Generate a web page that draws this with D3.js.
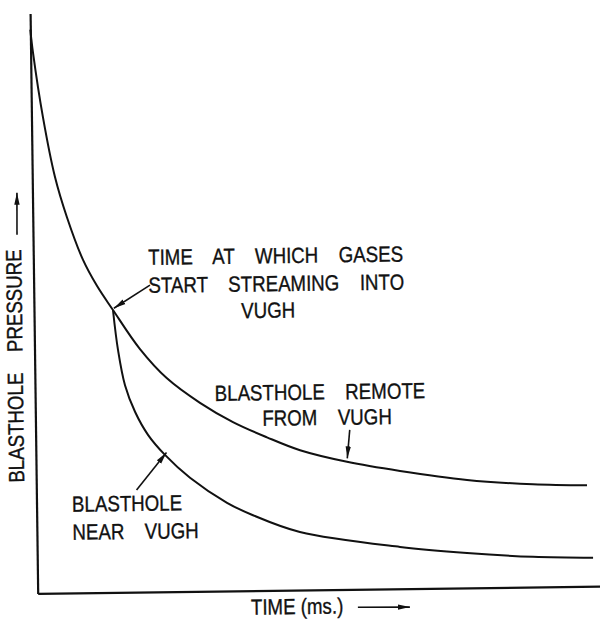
<!DOCTYPE html>
<html>
<head>
<meta charset="utf-8">
<script src="https://cdn.jsdelivr.net/npm/d3@7"></script>
<style>
  html, body { margin: 0; padding: 0; background: #fff; }
  svg { display: block; }
  text { font-family: "Liberation Sans", Arial, sans-serif; fill: #111; stroke: #111; stroke-width: 0.35px; }
</style>
</head>
<body>
<svg id="chart" width="600" height="619"></svg>
<script>
// ---- data (time and pressure in arbitrary units, 0-100) ----
const remoteTime     = [0, 0.43, 2.04, 4.03, 6.07, 8.83, 11.24, 14.03, 18.74, 23.46, 29.27, 35.08, 41.08, 46.93, 55.24, 64.64, 76.52, 88.22, 97.81];
const remotePressure = [97.2, 93.2, 82.1, 71.8, 64.8, 57.4, 52.9, 48.7, 41.9, 36.8, 32.5, 29.1, 26.4, 24.1, 22.0, 20.3, 18.6, 17.7, 17.4];
const nearTime       = [14.03, 14.83, 15.99, 17.71, 19.96, 22.93, 27.32, 33.84, 38.42, 46.71, 64.46, 76.34, 88.06, 98.72];
const nearPressure   = [48.7, 41.8, 35.7, 31.1, 27.1, 23.6, 19.6, 15.2, 13.0, 10.0, 7.2, 6.0, 5.2, 4.9];

const xTitle = "TIME (ms.)";
const yTitle = "BLASTHOLE PRESSURE";

// annotation lines [x1, y1, x2(tip), y2(tip)] in data units
const annotationArrows = [
  [20.66, 52.9, 14.2, 49.0],
  [17.8, 17.6, 23.2, 24.0],
  [55.8, 27.5, 55.3, 22.6]
];
const annotationLabels = [
  { lines: ["TIME AT WHICH GASES", "START STREAMING INTO"], x: 20.4, y: 56.4, anchor: "start" },
  { lines: ["VUGH"], x: 41.6, y: 47.0, anchor: "middle" },
  { lines: ["BLASTHOLE REMOTE"], x: 31.9, y: 32.8, anchor: "start" },
  { lines: ["FROM VUGH"], x: 51.8, y: 28.4, anchor: "middle" },
  { lines: ["BLASTHOLE", "NEAR VUGH"], x: 6.3, y: 14.0, anchor: "start" }
];

// ---- chart ----
const svg = d3.select("#chart");
const x = d3.scaleLinear().domain([0, 100]).range([34, 597]);
const y = d3.scaleLinear().domain([0, 100]).range([590, 10]);

const defs = svg.append("defs");
defs.append("marker")
  .attr("id", "head").attr("viewBox", "0 0 12 10")
  .attr("refX", 12).attr("refY", 5)
  .attr("markerWidth", 12).attr("markerHeight", 10)
  .attr("markerUnits", "userSpaceOnUse")
  .attr("orient", "auto")
  .append("path").attr("d", "M0,2.3 L12,5 L0,7.7 Z").attr("fill", "#111");

const g = svg.append("g").attr("transform", "rotate(-0.75 300 310)");

// axes (no ticks)
g.append("g").attr("transform", `translate(0,${y(0)})`)
  .call(d3.axisBottom(x).tickValues([]).tickSizeOuter(0))
  .call(s => s.select(".domain").attr("stroke", "#111").attr("stroke-width", 2.2));
g.append("g").attr("transform", `translate(${x(0)},0)`)
  .call(d3.axisLeft(y).tickValues([]).tickSizeOuter(0))
  .call(s => s.select(".domain").attr("stroke", "#111").attr("stroke-width", 2.2));

const line = d3.line().x(d => x(d[0])).y(d => y(d[1])).curve(d3.curveCatmullRom.alpha(0.5));
const remote = remoteTime.map((t, i) => [t, remotePressure[i]]);
const near = nearTime.map((t, i) => [t, nearPressure[i]]);

g.append("path").attr("d", line(remote)).attr("fill", "none").attr("stroke", "#111").attr("stroke-width", 2);
g.append("path").attr("d", line(near)).attr("fill", "none").attr("stroke", "#111").attr("stroke-width", 2);

// annotation arrows
g.selectAll(".ann").data(annotationArrows).join("line")
  .attr("x1", d => x(d[0])).attr("y1", d => y(d[1]))
  .attr("x2", d => x(d[2])).attr("y2", d => y(d[3]))
  .attr("stroke", "#111").attr("stroke-width", 1.6)
  .attr("marker-end", "url(#head)");

// labels (narrow lettering: horizontally condensed)
const fs = 22, squeeze = 0.85;
annotationLabels.forEach(l => {
  const t = g.append("text")
    .attr("transform", `translate(${x(l.x)},${y(l.y)}) scale(${squeeze},1)`)
    .attr("text-anchor", l.anchor)
    .style("font-size", fs + "px")
    .style("word-spacing", "18px");
  l.lines.forEach((ln, i) => {
    t.append("tspan").attr("x", 0).attr("dy", i === 0 ? 0 : 28).text(ln);
  });
});

// axis titles
g.append("text")
  .attr("transform", `translate(247,614) scale(${squeeze},1)`)
  .style("font-size", fs + "px")
  .text(xTitle);
g.append("line").attr("x1", 354).attr("y1", 608).attr("x2", 406).attr("y2", 608.5)
  .attr("stroke", "#111").attr("stroke-width", 1.6).attr("marker-end", "url(#head)");

g.append("text")
  .attr("transform", `translate(22,479) rotate(-90) scale(${squeeze},1)`)
  .style("font-size", fs + "px")
  .style("word-spacing", "18px")
  .text(yTitle);
g.append("line").attr("x1", 18).attr("y1", 231).attr("x2", 18.5).attr("y2", 189)
  .attr("stroke", "#111").attr("stroke-width", 1.6).attr("marker-end", "url(#head)");
</script>
</body>
</html>
